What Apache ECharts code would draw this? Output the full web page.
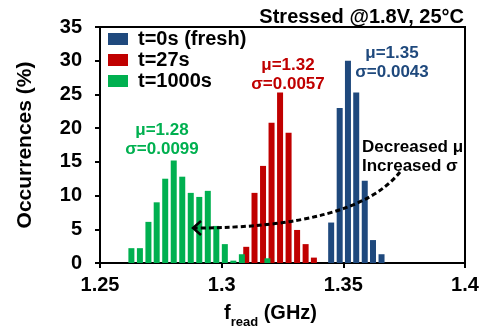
<!DOCTYPE html>
<html>
<head>
<meta charset="utf-8">
<script src="https://cdn.jsdelivr.net/npm/echarts@6/dist/echarts.min.js"></script>
<style>
  html, body { margin: 0; padding: 0; background: #fff; }
  #chart { width: 491px; height: 334px; }
</style>
</head>
<body>
<div id="chart"></div>
<script>
// bin centres (GHz) and occurrences (%)
const freshX = [1.3450, 1.3485, 1.3519, 1.3553, 1.3588, 1.3622, 1.3657];
const freshY = [6.0, 23.0, 30.0, 25.3, 12.2, 3.4, 1.3];

const t27X = [1.3101, 1.3135, 1.3170, 1.3205, 1.3240, 1.3275, 1.3310, 1.3345, 1.3379];
const t27Y = [2.4, 10.4, 14.4, 20.8, 25.3, 19.3, 4.9, 2.8, 0.8];

const t1000X = [1.2629, 1.2664, 1.2699, 1.2733, 1.2768, 1.2803, 1.2838, 1.2873, 1.2908,
                1.2943, 1.2978, 1.3013, 1.3048, 1.3083, 1.3188];
const t1000Y = [2.2, 2.2, 6.1, 9.0, 12.5, 15.2, 12.8, 10.4, 9.8, 10.7, 5.5, 2.8, 0.35, 1.3, 0.7];

const seriesNames = ['t=0s (fresh)', 't=27s', 't=1000s'];
const seriesColors = ['#1F497D', '#C00000', '#00B050'];

const FONT = 'Liberation Sans, Arial, sans-serif';

const pairs = (xs, ys) => xs.map((x, i) => [x, ys[i]]);

const chart = echarts.init(document.getElementById('chart'));

const barSeries = (name, data, color) => ({
    name: name,
    type: 'bar',
    data: data,
    barWidth: 6,
    barGap: '-100%',
    itemStyle: { color: color }
});

const annot = (text, x, y, color, align) => ({
    type: 'text',
    x: x,
    y: y,
    style: {
        text: text,
        fill: color,
        font: 'bold 17px ' + FONT,
        textAlign: align || 'center',
        textVerticalAlign: 'middle'
    },
    z: 20
});

const option = {
    animation: false,
    title: {
        text: 'Stressed @1.8V, 25°C',
        right: 22,
        top: 2,
        textStyle: { fontFamily: FONT, fontSize: 20, fontWeight: 'bold', color: '#000' }
    },
    legend: {
        orient: 'vertical',
        left: 108,
        top: 29,
        padding: 0,
        itemGap: 1,
        itemWidth: 20,
        itemHeight: 12,
        icon: 'rect',
        data: seriesNames,
        textStyle: { fontFamily: FONT, fontSize: 20, fontWeight: 'bold', color: '#000', padding: [0, 0, 0, 5] }
    },
    grid: {
        left: 100,
        right: 26,
        top: 27,
        bottom: 71,
        show: true,
        borderColor: '#000',
        borderWidth: 2,
        containLabel: false,
        outerBoundsMode: 'none'
    },
    xAxis: {
        type: 'value',
        min: 1.25,
        max: 1.4,
        interval: 0.05,
        splitLine: { show: false },
        axisLine: { lineStyle: { color: '#000', width: 2 } },
        axisTick: { length: 5, lineStyle: { color: '#000', width: 2 } },
        axisLabel: { fontFamily: FONT, fontSize: 20, fontWeight: 'bold', color: '#000', margin: 12 },
        name: '{m|f}{s|read}{m| (GHz)}',
        nameLocation: 'middle',
        nameGap: 34,
        nameTextStyle: {
            padding: [0, 24, 0, 0],
            rich: {
                m: { fontFamily: FONT, fontSize: 20, fontWeight: 'bold', color: '#000', lineHeight: 32, verticalAlign: 'middle' },
                s: { fontFamily: FONT, fontSize: 13, fontWeight: 'bold', color: '#000', lineHeight: 14, verticalAlign: 'bottom' }
            }
        }
    },
    yAxis: {
        type: 'value',
        min: 0,
        max: 35,
        interval: 5,
        splitLine: { show: false },
        axisLine: { lineStyle: { color: '#000', width: 2 } },
        axisTick: { length: 5, lineStyle: { color: '#000', width: 2 } },
        axisLabel: { fontFamily: FONT, fontSize: 20, fontWeight: 'bold', color: '#000', margin: 18 },
        name: 'Occurrences (%)',
        nameLocation: 'middle',
        nameGap: 64,
        nameTextStyle: { fontFamily: FONT, fontSize: 21, fontWeight: 'bold', color: '#000' }
    },
    series: [
        barSeries(seriesNames[0], pairs(freshX, freshY), seriesColors[0]),
        barSeries(seriesNames[1], pairs(t27X, t27Y), seriesColors[1]),
        barSeries(seriesNames[2], pairs(t1000X, t1000Y), seriesColors[2])
    ],
    graphic: [
        annot('μ=1.28', 162, 130, seriesColors[2]),
        annot('σ=0.0099', 162, 149, seriesColors[2]),
        annot('μ=1.32', 288, 65, seriesColors[1]),
        annot('σ=0.0057', 288, 84, seriesColors[1]),
        annot('μ=1.35', 392, 53, seriesColors[0]),
        annot('σ=0.0043', 392, 72, seriesColors[0]),
        annot('Decreased μ', 362, 147, '#000', 'left'),
        annot('Increased σ', 362, 166, '#000', 'left'),
        {
            type: 'bezierCurve',
            shape: { x1: 400, y1: 172, cpx1: 355, cpy1: 228, x2: 194, y2: 228 },
            style: { stroke: '#000', lineWidth: 3, lineDash: [5, 3], fill: null },
            z: 20
        },
        {
            type: 'polyline',
            shape: { points: [[201, 221], [193, 228], [201, 235]] },
            style: { stroke: '#000', lineWidth: 2.5, fill: null },
            z: 20
        }
    ]
};

chart.setOption(option);
</script>
</body>
</html>
